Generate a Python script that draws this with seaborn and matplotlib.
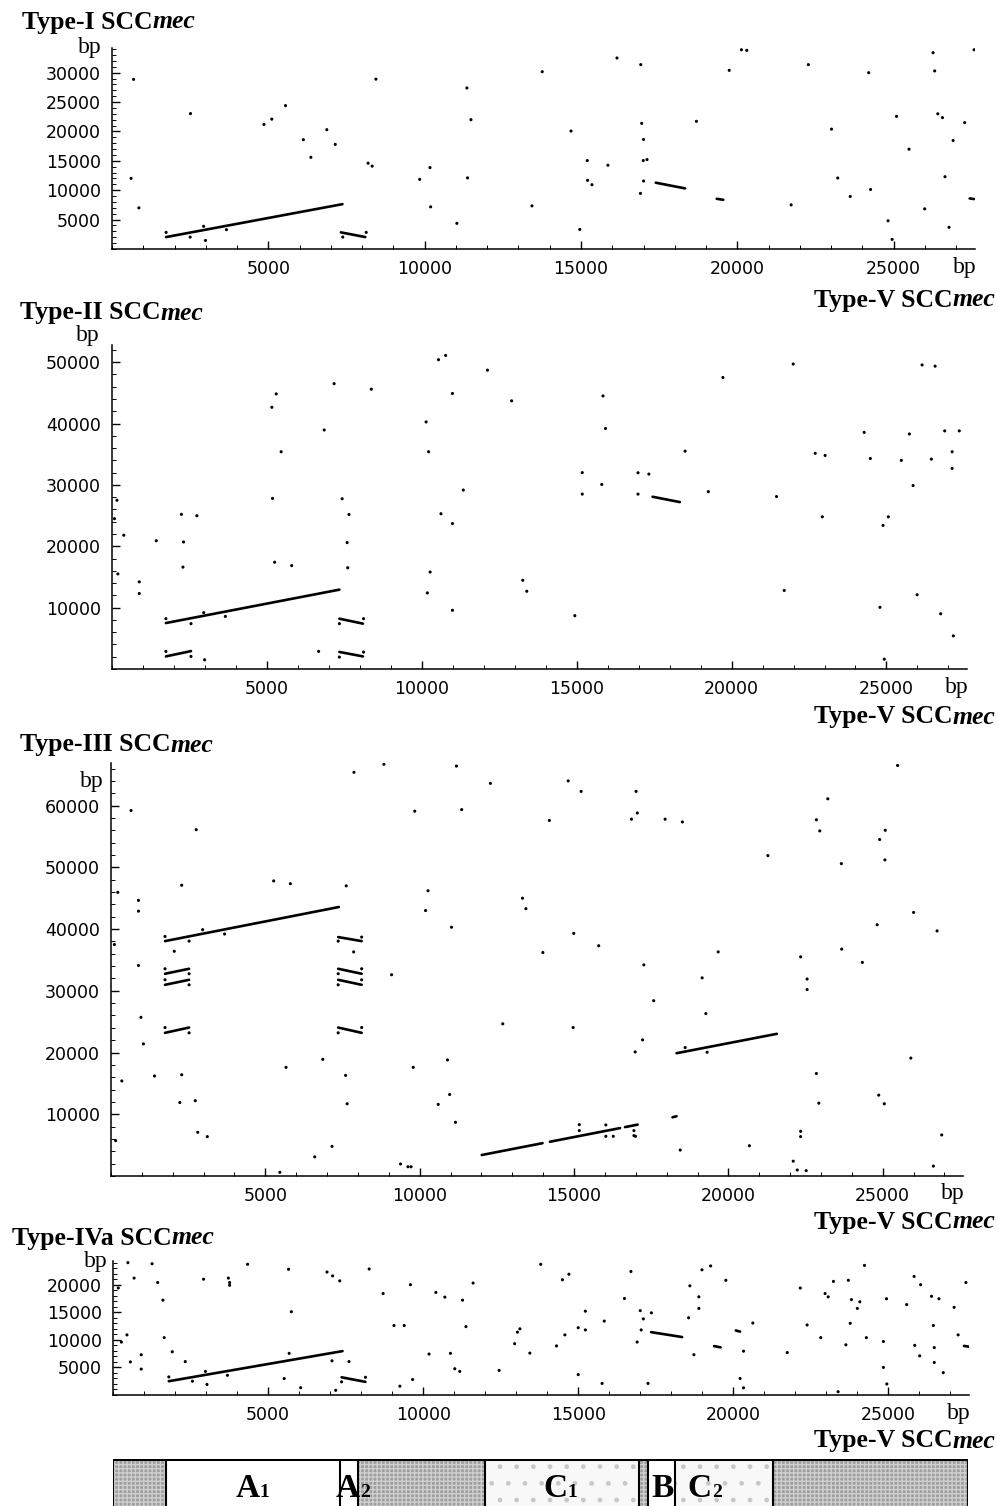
import numpy as np
import pandas as pd
import matplotlib
matplotlib.use("Agg")
import matplotlib.pyplot as plt
import seaborn as sns
from matplotlib.ticker import FixedLocator, MultipleLocator, StrMethodFormatter
from matplotlib.patches import Rectangle

# ---------------- data (bp) ----------------
XMAX = 27600
x_ticks = [5000, 10000, 15000, 20000, 25000]

# Panel 1: Type-I vs Type-V
p1_seg_x0 = [1730, 7320, 17390, 19340, 27430]
p1_seg_y0 = [2030, 2830, 11280, 8540, 8600]
p1_seg_x1 = [7370, 8100, 18330, 19550, 27570]
p1_seg_y1 = [7630, 2030, 10310, 8370, 8500]
p1_dot_x = [1730, 2500, 7380, 8130, 2930, 2990, 3660, 690, 610, 860, 2510, 4860, 5110, 5550, 6120,
            6360, 6870, 7140, 8190, 8320, 8440, 9840, 10170, 10190, 11030, 11350, 11370, 11480,
            13760, 13430, 14960, 14680, 15200, 15210, 15350, 15860, 16150, 16910, 16940, 17000,
            16990, 17110, 17000, 16900, 18690, 19740, 20130, 20300, 21720, 22270, 23010, 23210,
            23610, 24200, 24260, 24820, 24950, 25090, 25490, 25990, 26260, 26310, 26410, 26560,
            26640, 26770, 26900, 27270, 27570]
p1_dot_y = [2830, 2030, 2030, 2830, 3860, 1460, 3290, 28860, 12020, 7000, 23040, 21200, 22100, 24400,
            18600, 15600, 20300, 17800, 14600, 14100, 28900, 11850, 13850, 7170, 4370, 27400, 12100,
            22000, 30170, 7340, 3330, 20070, 15050, 11680, 10940, 14250, 32500, 31370, 21380, 18640,
            15050, 15220, 11570, 9460, 21720, 30400, 33900, 33800, 7510, 31370, 20400, 12080, 8940,
            30000, 10130, 4800, 1630, 22570, 16980, 6830, 33400, 30300, 23000, 22350, 12300, 3690,
            18460, 21500, 33900]
p1_yticks = [5000, 10000, 15000, 20000, 25000, 30000]

# Panel 2: Type-II vs Type-V
p2_seg_x0 = [1740, 1740, 7340, 7340, 17450]
p2_seg_y0 = [7490, 2050, 8200, 2780, 28070]
p2_seg_x1 = [7340, 2550, 8100, 8100, 18330]
p2_seg_y1 = [12930, 2920, 7390, 2050, 27200]
p2_dot_x = [1740, 2550, 1740, 2550, 2960, 3660, 2990, 7340, 8120, 7340, 8120, 6670,
            160, 80, 380, 190, 880, 880, 1430, 2240, 2310, 2290, 2740, 5160, 5300, 5460, 5180,
            5250, 5800, 6850, 7170, 7430, 7650, 7590, 7610, 8370, 10140, 10220, 10270, 10180,
            10540, 10770, 10990, 10620, 10990, 10990, 11340, 12120,
            12900, 13260, 13390, 14940, 15180, 15180, 15810, 15850, 15930, 16980, 17330, 16980,
            18500, 19250, 19720, 21450, 21700, 21990, 22700, 23020, 22930, 24280, 24480, 24790,
            24890, 25060, 24930, 25480, 25740, 25860, 25990, 26150, 26570, 26450, 26750, 26880,
            27120, 27120, 27350, 27160]
p2_dot_y = [8200, 7390, 2870, 2050, 9180, 8570, 1500, 7390, 8200, 1940, 2760, 2870,
            27500, 24500, 21800, 15500, 14200, 12300, 20900, 25200, 20700, 16600, 24980, 42650,
            44830, 35400, 27800, 17400, 16850, 38950, 46500, 27740, 25180, 20600, 16500, 45600,
            40260, 35400, 15800, 12400, 50400, 51100, 44900, 25300, 23700, 9570, 29160, 48700,
            43700, 14460, 12670, 8690, 32000, 28500, 30070, 44500, 39200, 31980, 31760, 28500,
            35500, 28900, 47500, 28100, 12800, 49700, 35150, 34800, 24800, 38560, 34300, 10050,
            23400, 24800, 1600, 34000, 38300, 29900, 12100, 49550, 49350, 34200, 9000, 38800,
            35400, 32700, 38800, 5400]
p2_yticks = [10000, 20000, 30000, 40000, 50000]

# Panel 3: Type-III vs Type-V
p3_seg_x0 = [1750, 1750, 1750, 1750, 7360, 7360, 7360, 7360, 12010, 14220, 16650, 18320, 18190]
p3_seg_y0 = [38050, 32760, 30970, 23190, 38700, 33570, 31780, 24050, 3400, 5550, 7920, 19890, 9510]
p3_seg_x1 = [7380, 2530, 2530, 2530, 8120, 8120, 8120, 8120, 13980, 16490, 17060, 21570, 18320]
p3_seg_y1 = [43570, 33570, 31780, 24050, 38050, 32760, 30970, 23190, 5320, 7760, 8320, 23030, 9680]
p3_dot_x = [1750, 2530, 1750, 2530, 1750, 2530, 1750, 2530,
            7360, 8120, 7360, 8120, 7360, 8120, 7360, 8120,
            650, 220, 110, 890, 890, 890, 970, 1050, 350, 1410, 150, 2050, 2290, 2970, 3680, 2760,
            2290, 2230, 2730, 2810, 3120, 5270, 5810, 5670, 5470, 6600, 6860, 7160, 7620, 7870,
            7860, 7600, 7650, 8840, 9090, 9380, 9620, 9720, 9840, 9790, 10270, 10190, 11190,
            11360, 11030, 10900, 10970, 10600, 11160, 12290,
            15170, 15170, 16030, 16030, 16270, 16940, 16940, 16990,
            12690, 13330, 13440, 13990, 14200, 14810, 15230, 14990, 14970, 15800, 16860, 17010,
            17050, 17260, 17580, 17220, 16980, 17950, 18510, 18440, 18600, 19310, 19150, 19270,
            19670, 20680, 21280, 22100, 22230, 22520, 22340, 22340, 22340, 22550, 22550, 22850,
            22930, 22850, 22960, 23220, 23660, 23670, 24340, 24820, 24900, 25080, 25070, 24870,
            25050, 25480, 25910, 26000, 26760, 26910, 26640]
p3_dot_y = [38800, 38050, 33570, 32760, 31780, 30970, 24050, 23190,
            38050, 38700, 32760, 33570, 30970, 31780, 23190, 24050,
            59200, 45950, 37500, 44650, 42900, 34100, 25700, 21400, 15400, 16200, 5730, 36400,
            47100, 39900, 39200, 56100, 16400, 11900, 12200, 7080, 6380, 47800, 47350, 17600, 600,
            3100, 18900, 4800, 47000, 65400, 36300, 16300, 11700, 66700, 32600, 1950, 1500, 1500,
            59100, 17600, 46200, 43000, 66400, 59350, 40300, 18800, 13200, 11600, 8700, 63600,
            8320, 7350, 8270, 6430, 6430, 7350, 6540, 6430,
            24650, 45000, 43300, 36200, 57600, 64000, 62300, 39300, 24050, 37300, 57800, 62300,
            58800, 34200, 28400, 22050, 20100, 57800, 57350, 4200, 20800, 20050, 32100, 26300,
            36300, 4900, 51900, 2400, 970, 860, 35500, 7240, 6380, 31900, 30200, 16600, 11800,
            57700, 55900, 61100, 50600, 36750, 34600, 40700, 54500, 56000, 51200, 13100, 11700,
            66500, 19100, 42700, 39700, 6650, 1600]
p3_yticks = [10000, 20000, 30000, 40000, 50000, 60000]

# Panel 4: Type-IVa vs Type-V
p4_seg_x0 = [1800, 7370, 17350, 19380, 27440, 20080]
p4_seg_y0 = [2500, 3210, 11400, 8870, 8900, 11700]
p4_seg_x1 = [7400, 8140, 18350, 19590, 27630, 20220]
p4_seg_y1 = [7960, 2380, 10510, 8640, 8730, 11500]
p4_dot_x = [1800, 2560, 7370, 8140, 2980, 3030, 3690,
            480, 170, 680, 1260, 1440, 1610, 450, 270, 910, 560, 910, 1650, 1910, 2330, 2920,
            3720, 3760, 3760, 4340, 5660, 5750, 5680, 5520, 6050, 6900, 7080, 7310, 7060, 7180,
            7610, 8260, 8710, 9060, 9390, 9590, 9660, 9250, 10190, 10410, 10700, 10880, 11020,
            11180, 11270, 11380, 11610, 12450,
            12950, 13040, 13120, 13440, 13790, 14300, 14490, 14700, 14570, 15000, 15000, 15230,
            15230, 15770, 15840, 16490, 16700, 16900, 17000, 17100, 17030, 17360, 17250, 18560,
            18600, 18730, 18890, 18890, 18990, 19270, 19760, 20220, 20330, 20330, 20630, 21740,
            22160, 22380, 22820, 22960, 23060, 23230, 23380, 23630, 23710, 23770, 23810, 24000,
            24080, 24230, 24290, 24840, 24840, 24940, 24950, 25590, 25830, 25850, 26040, 26010,
            26450, 26480, 26480, 26390, 26630, 26770, 27120, 27250, 27500]
p4_dot_y = [3280, 2500, 2380, 3210, 4280, 1910, 3570,
            24000, 19400, 21200, 23800, 20400, 17200, 10900, 9600, 7300, 6000, 4700, 10400, 7840,
            6060, 21000, 21200, 20400, 19900, 23700, 22800, 15100, 7550, 2980, 1320, 22300, 21600,
            20700, 6200, 850, 6060, 22850, 18400, 12600, 12600, 20000, 2800, 1600, 7430, 18600,
            17750, 7550, 4760, 4280, 17200, 12400, 20300, 4460,
            9300, 11400, 12000, 7600, 23700, 8900, 20900, 21900, 10900, 3700, 12200, 15200, 11800,
            2100, 13400, 17500, 22400, 9600, 15300, 13800, 11800, 14900, 2100, 14000, 19800, 7300,
            17800, 15700, 22700, 23400, 20800, 3000, 1300, 7950, 13050, 7700, 19400, 12700, 10400,
            18400, 17800, 20600, 600, 9100, 20800, 13000, 17300, 15700, 16900, 23500, 10400, 9700,
            5000, 17450, 2000, 16400, 21500, 9000, 20000, 7100, 12600, 8600, 5900, 17900, 17450,
            4050, 15900, 10900, 20400]
p4_yticks = [5000, 10000, 15000, 20000]

titles = [("Type-I SCC", "mec"), ("Type-II SCC", "mec"), ("Type-III SCC", "mec"), ("Type-IVa SCC", "mec")]
xlabel_parts = ("Type-V SCC", "mec")

# Gene-structure bar of Type-V SCCmec
bar_start = [0, 1710, 7320, 7900, 12000, 16990, 17270, 18160, 21300]
bar_end = [1710, 7320, 7900, 12000, 16990, 17270, 18160, 21300, 27600]
bar_kind = ["gray", "white", "white", "gray", "stipple", "gray", "white", "stipple", "gray"]
bar_edges = [0, 1710, 7320, 7900, 12000, 16990, 17270, 18160, 21300, 27600]
bar_letter = ["A", "A", "C", "B", "C"]
bar_sub = ["1", "2", "1", "", "2"]
bar_label_x = [3960, 7190, 13910, 17370, 18550]

# ---------------- layout (pixels) ----------------
W, H = 998, 1506
sns.set_style("ticks")
plt.rcParams["font.family"] = ["DejaVu Sans"]
plt.rcParams["text.color"] = "black"
fig = plt.figure(figsize=(W / 100, H / 100), dpi=100)
renderer = fig.canvas.get_renderer()


def rect(l, r, t, b):
    return [l / W, 1 - b / H, (r - l) / W, (b - t) / H]


panel_boxes = [(112, 975, 48, 249), (112, 967, 345, 669), (111, 963, 763, 1176), (113, 969, 1261, 1395)]
panel_ymax = [34200, 52800, 66900, 24300]
panel_yminor = [1000, 2000, 2000, 1000]
title_pos = [(22, 22), (20, 313), (20, 745), (12, 1238)]
ybp_pos = [(102, 48), (100, 336), (104, 782), (108, 1262)]
xlab_y = [300, 717, 1222, 1441]

panel_data = [
    (p1_dot_x, p1_dot_y, p1_seg_x0, p1_seg_y0, p1_seg_x1, p1_seg_y1, p1_yticks),
    (p2_dot_x, p2_dot_y, p2_seg_x0, p2_seg_y0, p2_seg_x1, p2_seg_y1, p2_yticks),
    (p3_dot_x, p3_dot_y, p3_seg_x0, p3_seg_y0, p3_seg_x1, p3_seg_y1, p3_yticks),
    (p4_dot_x, p4_dot_y, p4_seg_x0, p4_seg_y0, p4_seg_x1, p4_seg_y1, p4_yticks),
]

SERIF = "Liberation Serif"


def ftext(xpx, ypx, s, **kw):
    kw.setdefault("color", "black")
    return fig.text(xpx / W, 1 - ypx / H, s, **kw)


def mixed_left(xpx, ypx, parts, size):
    x = xpx
    for s, style in parts:
        t = ftext(x, ypx, s, fontsize=size, family=SERIF, weight="bold", style=style,
                  ha="left", va="center")
        x = t.get_window_extent(renderer).x1


def mixed_right(xpx, ypx, parts, size):
    x = xpx
    for s, style in reversed(parts):
        t = ftext(x, ypx, s, fontsize=size, family=SERIF, weight="bold", style=style,
                  ha="right", va="center")
        x = t.get_window_extent(renderer).x0


for i, (dx, dy, sx0, sy0, sx1, sy1, yt) in enumerate(panel_data):
    l, r, t, b = panel_boxes[i]
    ax = fig.add_axes(rect(l, r, t, b))
    sns.scatterplot(x=dx, y=dy, ax=ax, s=5, color="black", edgecolor="none", marker="o",
                    legend=False)
    seg_df = pd.DataFrame({
        "x": list(sx0) + list(sx1),
        "y": list(sy0) + list(sy1),
        "seg": list(range(len(sx0))) * 2,
    })
    sns.lineplot(data=seg_df, x="x", y="y", units="seg", estimator=None, sort=False,
                 color="black", lw=1.9, ax=ax, legend=False)
    ax.set_xlim(0, XMAX)
    ax.set_ylim(0, panel_ymax[i])
    ax.set_xlabel("")
    ax.set_ylabel("")
    ax.xaxis.set_major_locator(FixedLocator(x_ticks))
    ax.xaxis.set_minor_locator(MultipleLocator(1000))
    ax.yaxis.set_major_locator(FixedLocator(yt))
    ax.yaxis.set_minor_locator(MultipleLocator(panel_yminor[i]))
    ax.xaxis.set_major_formatter(StrMethodFormatter("{x:.0f}"))
    ax.yaxis.set_major_formatter(StrMethodFormatter("{x:.0f}"))
    ax.tick_params(which="both", direction="in", colors="black")
    ax.tick_params(which="major", length=6, width=1.0, labelsize=12.5, pad=8)
    ax.tick_params(which="minor", length=3, width=0.7)
    sns.despine(ax=ax)
    for sp in ("left", "bottom"):
        ax.spines[sp].set_linewidth(1.1)
        ax.spines[sp].set_color("black")
    ax.set_facecolor("white")

    # labels
    tx, ty = title_pos[i]
    mixed_left(tx, ty, [(titles[i][0], "normal"), (titles[i][1], "italic")], 18.5)
    bx, by = ybp_pos[i]
    ftext(bx, by, "bp", fontsize=17, family=SERIF, ha="right", va="center")
    ftext(r + 2, b + 18, "bp", fontsize=17, family=SERIF, ha="right", va="center")
    mixed_right(995, xlab_y[i], [(xlabel_parts[0], "normal"), (xlabel_parts[1], "italic")], 18.5)

# ---------------- gene-structure bar ----------------
axb = fig.add_axes(rect(112.7, 968, 1459, 1525))
axb.set_xlim(0, XMAX)
axb.set_ylim(0, 1)
axb.axis("off")
for s, e, k in zip(bar_start, bar_end, bar_kind):
    if k == "gray":
        fc, hc, hatch = "#9e9e9e", "#cfcfcf", "++++"
    elif k == "stipple":
        fc, hc, hatch = "#f8f8f8", "#c8c8c8", "."
    else:
        fc, hc, hatch = "white", "white", None
    axb.add_patch(Rectangle((s, 0), e - s, 1.0, facecolor=fc, edgecolor=hc, hatch=hatch,
                            lw=0, zorder=1))
axb.vlines(bar_edges, 0, 1, colors="black", lw=1.5, zorder=3)
axb.hlines(1, 0, XMAX, colors="black", lw=2.2, zorder=3)

base_y = 1497
for letter, sub, xb in zip(bar_letter, bar_sub, bar_label_x):
    xpx = axb.transData.transform((xb, 0))[0]
    t = ftext(xpx, base_y, letter, fontsize=24, family=SERIF, weight="bold",
              ha="left", va="baseline", zorder=5)
    if sub:
        x1 = t.get_window_extent(renderer).x1
        ftext(x1, base_y, sub, fontsize=14, family=SERIF, weight="bold",
              ha="left", va="baseline", zorder=5)

fig.savefig("out.png", dpi=100, facecolor="white")
